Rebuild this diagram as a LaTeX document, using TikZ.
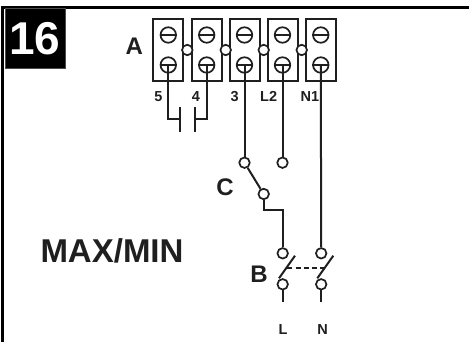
\documentclass[tikz,border=0pt]{standalone}
\usepackage{fontspec}
\setmainfont{Liberation Sans}
\usepackage{tikz}
\usetikzlibrary{positioning}

\begin{document}
\begin{tikzpicture}
[x=1pt,y=-1pt,line width=2pt,color=black!88,
  terminal block/.style={draw,rectangle,line width=1.7pt,minimum width=30pt,minimum height=62pt,inner sep=0pt},
  screw node/.style={draw,circle,line width=1.7pt,minimum size=15.5pt,inner sep=0pt},
  ring node/.style={draw,circle,fill=white,line width=1.7pt,minimum size=10.5pt,inner sep=0pt},
  big label/.style={font=\fontsize{24}{24}\selectfont\bfseries,inner sep=0pt},
  wire label/.style={font=\fontsize{14.5}{14.5}\selectfont\bfseries,inner sep=0pt,anchor=base}]

  \useasboundingbox (0,0) rectangle (469,342);

  % frame and number
  \coordinate (frameTop) at (469,7.7);
  \coordinate (frameCorner) at (2.5,7.7);
  \coordinate (frameBottom) at (2.5,342);
  \draw [black,line width=3pt] (frameTop) -- (frameCorner) -- (frameBottom);
  \node [fill=black,draw=black!70,line width=1pt,minimum size=60pt,inner sep=0pt,text=white,font=\fontsize{46}{46}\selectfont\bfseries] (number) at (35,38.5) {16};

  % terminal blocks
  \foreach \name/\x in {five/168.3,four/206.7,three/245,ltwo/283.3,none/321.3}
    \node [terminal block] (\name) at (\x,50) {};

  % screws
  \foreach \name/\x in {five/168.3,four/206.7,three/244.5,ltwo/282.5,none/320.8} {
    \node [screw node] (\name-up) at (\x,35) {};
    \node [screw node] (\name-low) at (\x,65) {};
    \draw [line width=1.7pt] (\name-up.west) -- (\name-up.east);
    \draw [line width=1.7pt] (\name-low.west) -- (\name-low.east);
  }

  \foreach \name/\x in {linka/187.3,linkb/225.7,linkc/263.7,linkd/301.7}
    \node [ring node] (\name) at (\x,50) {};

  % switch rings
  \node [ring node] (cIn) at (244.5,162.7) {};
  \node [ring node] (cOff) at (282.5,162.7) {};
  \node [ring node] (cOut) at (263.7,194) {};
  \node [ring node] (bInL) at (282.7,253.3) {};
  \node [ring node] (bInN) at (321.2,253.3) {};
  \node [ring node] (bOutL) at (282.7,284.3) {};
  \node [ring node] (bOutN) at (321.2,284.3) {};

  % capacitor
  \coordinate (plateA) at (180,119.3);
  \coordinate (plateB) at (194.7,119.3);
  \coordinate (plateAt) at (180,107);
  \coordinate (plateAb) at (180,132);
  \coordinate (plateBt) at (194.7,107);
  \coordinate (plateBb) at (194.7,132);
  \draw (five-low.center) |- (plateA);
  \draw (four-low.center) |- (plateB);
  \foreach \from/\to in {plateAt/plateAb,plateBt/plateBb}
    \draw (\from) -- (\to);

  % wires
  \foreach \from/\to in {three-low.center/cIn,ltwo-low.center/cOff,cIn/cOut,none-low.center/bInN}
    \draw (\from) -- (\to);
  \coordinate (cBend) at (263.7,210.3);
  \draw (cOut) -- (cBend) -| (bInL);

  % breaker
  \coordinate (bladeLa) at (279,278.3);
  \coordinate (bladeLb) at (295,255.7);
  \coordinate (bladeNa) at (317.3,278.3);
  \coordinate (bladeNb) at (333.3,255.7);
  \coordinate (lineL) at (282.7,302.3);
  \coordinate (lineN) at (321.2,302.3);
  \coordinate (tieL) at (287.3,268.3);
  \coordinate (tieN) at (324.5,268.3);
  \foreach \from/\to in {bladeLa/bladeLb,bladeNa/bladeNb,bOutL/lineL,bOutN/lineN}
    \draw (\from) -- (\to);
  \draw [dashed,dash pattern=on 5pt off 3.2pt,line width=1.9pt] (tieL) -- (tieN);

  % labels
  \node [big label] (labA) at (134.3,46.7) {A};
  \node [big label] (labC) at (225,187.3) {C};
  \node [big label] (labB) at (259,274) {B};
  \node [font=\fontsize{33}{33}\selectfont\bfseries,inner sep=0pt] (mode) at (112,251) {MAX/MIN};
  \node [wire label] (lab5) at (158.3,102) {5};
  \node [wire label] (lab4) at (196,102) {4};
  \node [wire label] (lab3) at (234.7,102) {3};
  \node [wire label] (labL2) at (268.7,102) {L2};
  \node [wire label] (labN1) at (310,102) {N1};
  \node [wire label] (labL) at (283,334) {L};
  \node [wire label] (labN) at (322.7,334) {N};

\end{tikzpicture}
\end{document}
